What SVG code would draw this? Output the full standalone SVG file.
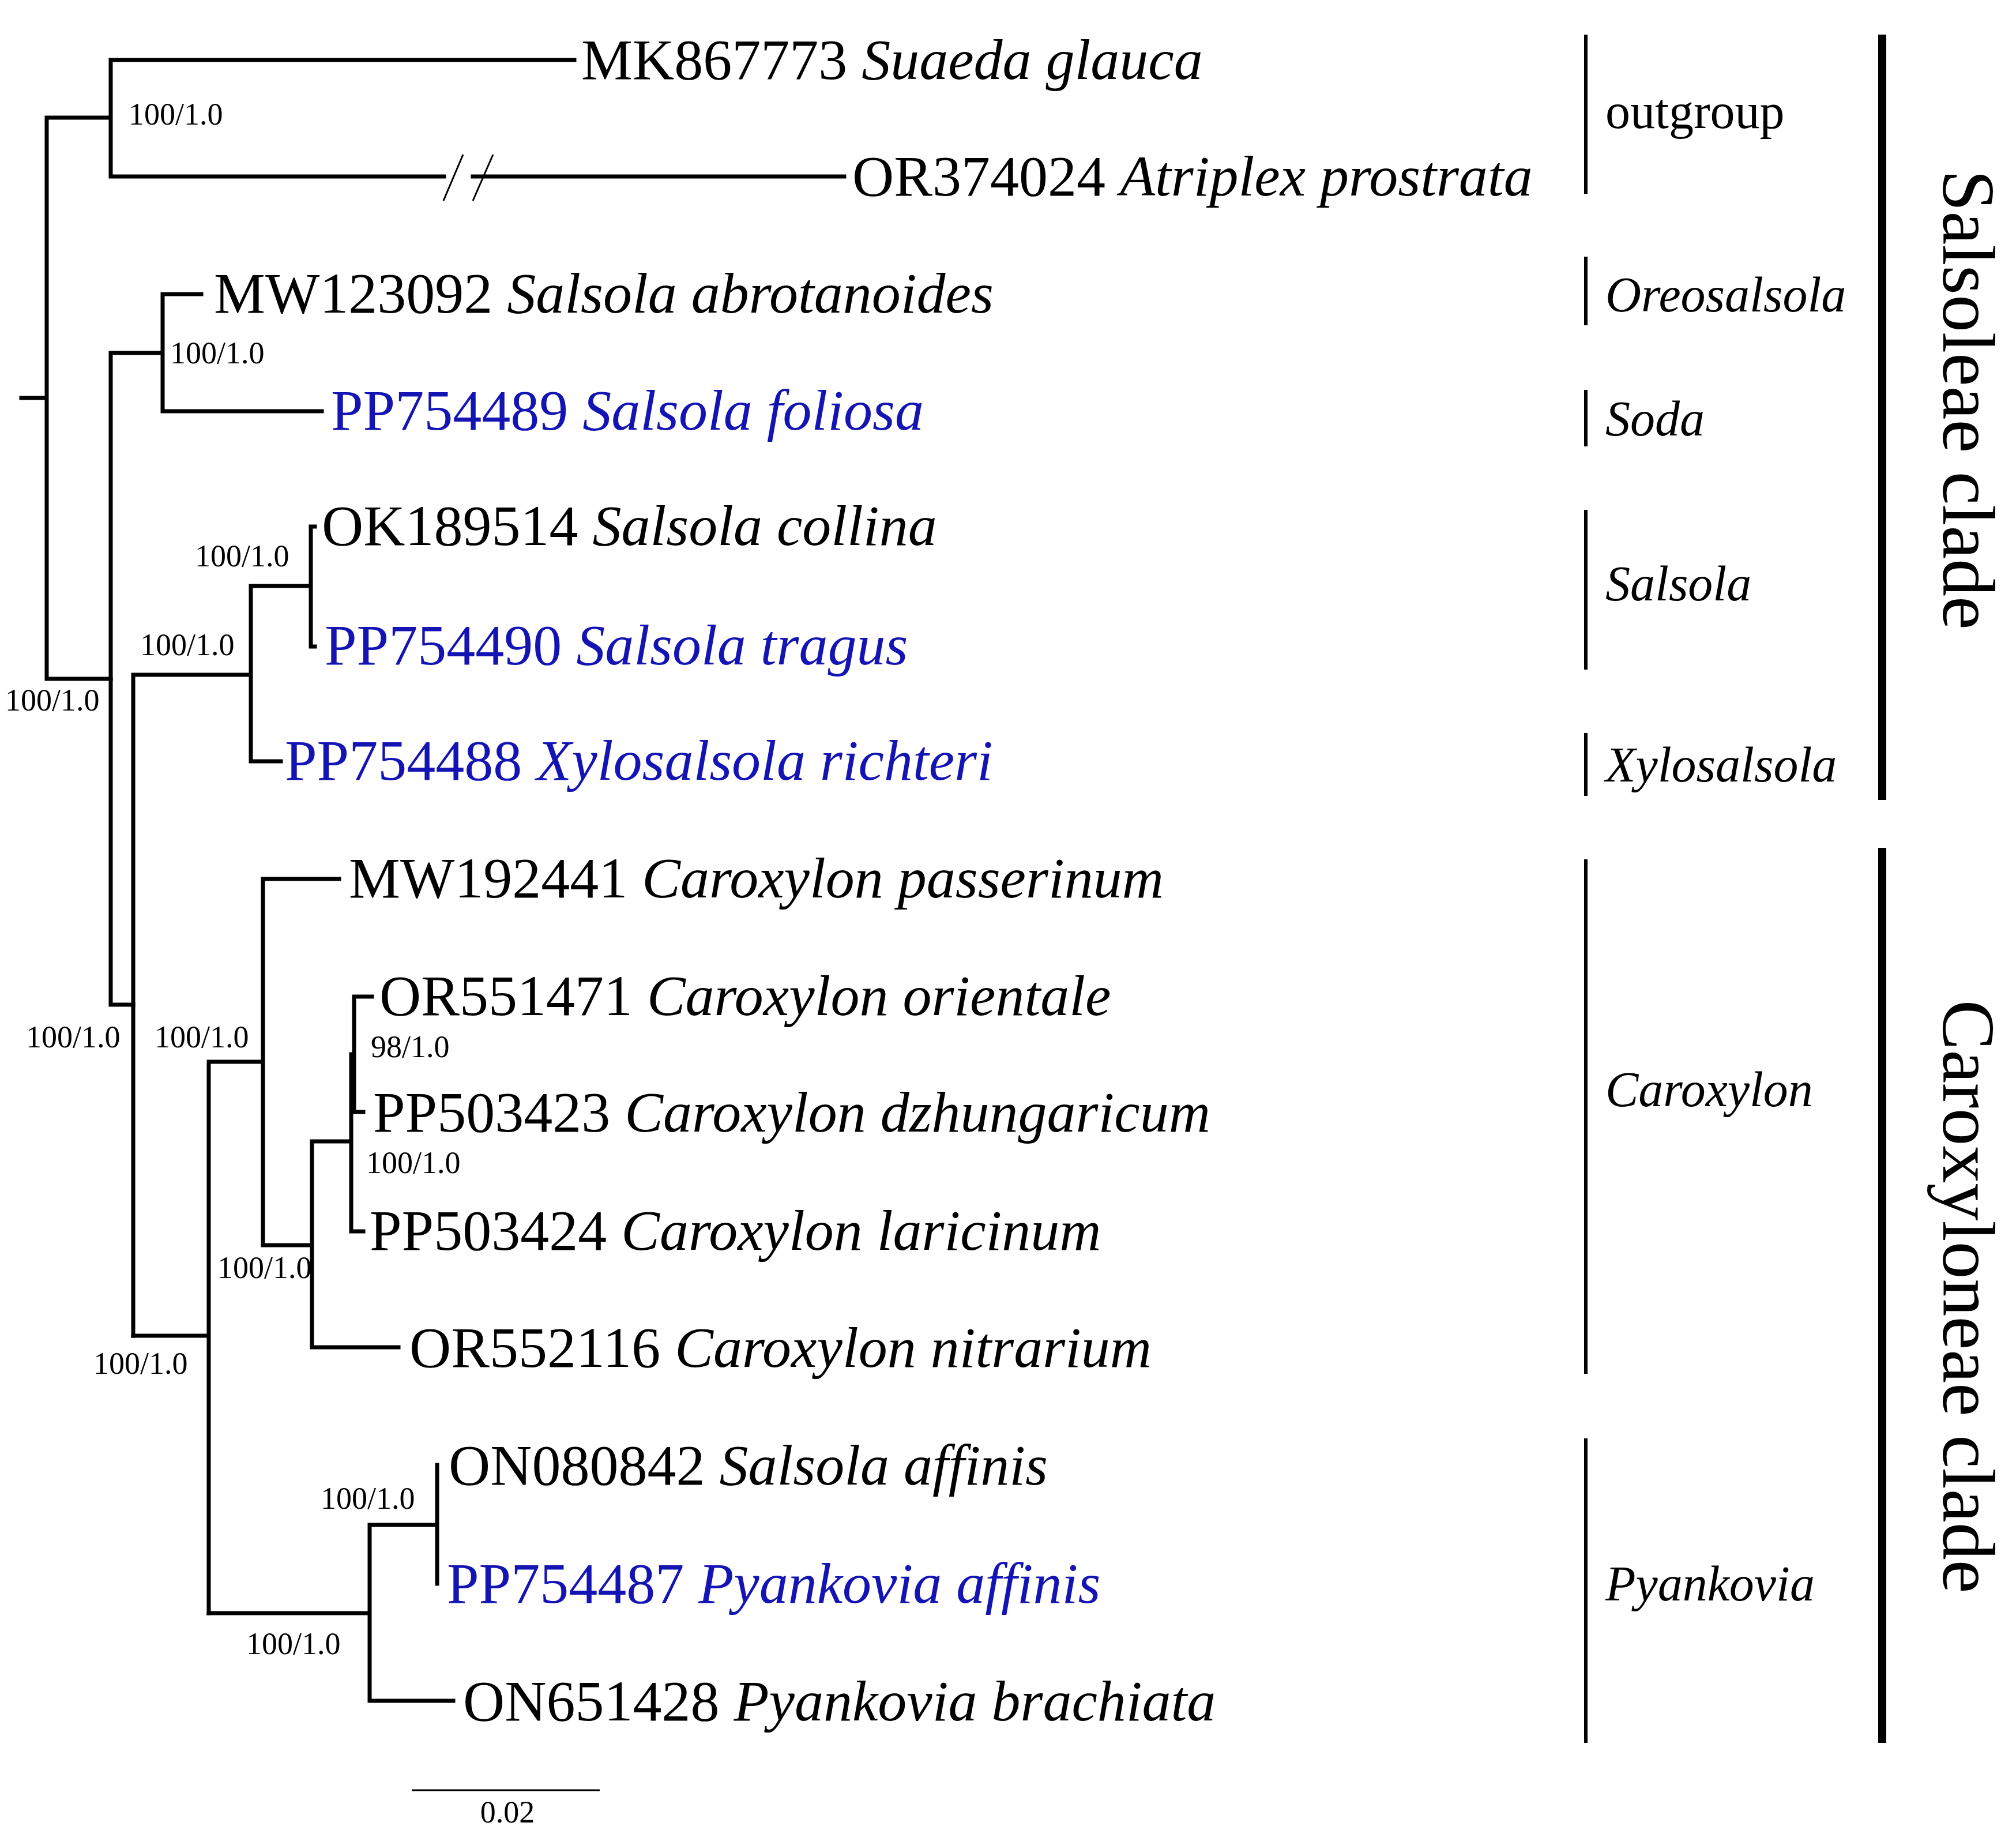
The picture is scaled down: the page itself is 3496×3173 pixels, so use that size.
<svg xmlns="http://www.w3.org/2000/svg" width="3496" height="3173" viewBox="0 0 3496 3173">
<style>
.br{stroke:#000;stroke-width:7;fill:none;stroke-linecap:square}
.t{font-family:"Liberation Serif",serif;font-size:100px;fill:#000}
.b{fill:#1414b4}
.i{font-style:italic}
.s{font-family:"Liberation Serif",serif;font-size:54px;fill:#000}
.g{font-family:"Liberation Serif",serif;font-size:86px;fill:#000}
.c{font-family:"Liberation Serif",serif;font-size:130px;fill:#000}
.bar{stroke:#000;stroke-width:6}
.tb{stroke:#000;stroke-width:14}
</style>
<rect width="3496" height="3173" fill="#fff"/>
<g id="connectors">
<path class="br" d="M37 690H81M81 204V1177M81 204H192M81 1177H192M192 104V306M192 104H996M192 306H770M820 306H1464"/>
<path d="M769 348L803 268M820 348L855 268" stroke="#000" stroke-width="3" fill="none"/>
<path class="br" d="M192 612V1742M192 612H282M282 510V713M282 510H349M282 713H558M192 1742H231"/>
<path class="br" d="M231 1170V2316M231 1170H435M435 1016V1320M435 1320H487M435 1016H539M539 913V1121M539 913H546M539 1121H546"/>
<path class="br" d="M231 2316H362M362 1841V2797M362 1841H456M456 1524V2159M456 1524H588M456 2159H541M541 1979V2336M541 2336H691M541 1979H609M609 1828V2135M609 1828H614M614 1728V1928M614 1728H645M614 1928H630M609 2135H630"/>
<path class="br" d="M362 2797H641M641 2644V2949M641 2644H758M758 2540V2746M641 2949H786"/>
<path d="M714 3104H1040" stroke="#000" stroke-width="3"/>
</g>
<g id="support">
<text class="s" x="223" y="216">100/1.0</text>
<text class="s" x="295" y="630">100/1.0</text>
<text class="s" x="338" y="982">100/1.0</text>
<text class="s" x="243" y="1136">100/1.0</text>
<text class="s" x="9" y="1232">100/1.0</text>
<text class="s" x="45" y="1816">100/1.0</text>
<text class="s" x="268" y="1816">100/1.0</text>
<text class="s" x="643" y="1833">98/1.0</text>
<text class="s" x="635" y="2034">100/1.0</text>
<text class="s" x="377" y="2216">100/1.0</text>
<text class="s" x="162" y="2382">100/1.0</text>
<text class="s" x="556" y="2616">100/1.0</text>
<text class="s" x="427" y="2868">100/1.0</text>
<text class="s" x="880" y="3160" text-anchor="middle">0.02</text>
</g>
<g id="taxa">
<text class="t" x="1008" y="137">MK867773 <tspan class="i">Suaeda glauca</tspan></text>
<text class="t" x="1478" y="339">OR374024 <tspan class="i">Atriplex prostrata</tspan></text>
<text class="t" x="371" y="542">MW123092 <tspan class="i">Salsola abrotanoides</tspan></text>
<text class="t b" x="574" y="745">PP754489 <tspan class="i">Salsola foliosa</tspan></text>
<text class="t" x="558" y="945">OK189514 <tspan class="i">Salsola collina</tspan></text>
<text class="t b" x="563" y="1152">PP754490 <tspan class="i">Salsola tragus</tspan></text>
<text class="t b" x="494" y="1352">PP754488 <tspan class="i">Xylosalsola richteri</tspan></text>
<text class="t" x="605" y="1556">MW192441 <tspan class="i">Caroxylon passerinum</tspan></text>
<text class="t" x="658" y="1760">OR551471 <tspan class="i">Caroxylon orientale</tspan></text>
<text class="t" x="647" y="1962">PP503423 <tspan class="i">Caroxylon dzhungaricum</tspan></text>
<text class="t" x="641" y="2167">PP503424 <tspan class="i">Caroxylon laricinum</tspan></text>
<text class="t" x="710" y="2370">OR552116 <tspan class="i">Caroxylon nitrarium</tspan></text>
<text class="t" x="778" y="2574">ON080842 <tspan class="i">Salsola affinis</tspan></text>
<text class="t b" x="775" y="2779">PP754487 <tspan class="i">Pyankovia affinis</tspan></text>
<text class="t" x="803" y="2983">ON651428 <tspan class="i">Pyankovia brachiata</tspan></text>
</g>
<g id="groups">
<line class="bar" x1="2750" y1="60" x2="2750" y2="336"/>
<text class="g" x="2784" y="222">outgroup</text>
<line class="bar" x1="2750" y1="445" x2="2750" y2="564"/>
<text class="g i" x="2784" y="540">Oreosalsola</text>
<line class="bar" x1="2750" y1="676" x2="2750" y2="774"/>
<text class="g i" x="2784" y="755">Soda</text>
<line class="bar" x1="2750" y1="884" x2="2750" y2="1161"/>
<text class="g i" x="2784" y="1041">Salsola</text>
<line class="bar" x1="2750" y1="1271" x2="2750" y2="1380"/>
<text class="g i" x="2784" y="1355">Xylosalsola</text>
<line class="bar" x1="2750" y1="1490" x2="2750" y2="2382"/>
<text class="g i" x="2784" y="1918">Caroxylon</text>
<line class="bar" x1="2750" y1="2494" x2="2750" y2="3022"/>
<text class="g i" x="2784" y="2775">Pyankovia</text>
<line class="tb" x1="3264" y1="60" x2="3264" y2="1387"/>
<text class="c" transform="translate(3370 693) rotate(90)" text-anchor="middle">Salsoleae clade</text>
<line class="tb" x1="3264" y1="1470" x2="3264" y2="3022"/>
<text class="c" transform="translate(3370 2248) rotate(90)" text-anchor="middle">Caroxyloneae clade</text>
</g>
</svg>
